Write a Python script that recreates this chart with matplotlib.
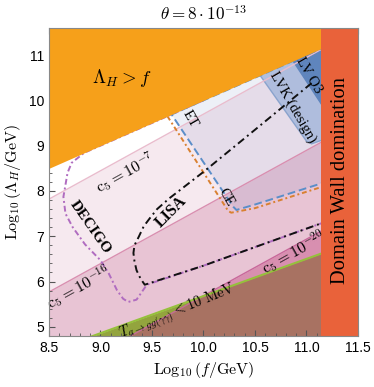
import numpy as np
import matplotlib.pyplot as plt
from matplotlib.ticker import MultipleLocator

plt.rcParams['mathtext.fontset'] = 'cm'
plt.rcParams['font.family'] = 'Liberation Serif'

# straight boundaries, values at log10 f = 8.5 and 11.5
x_ends = [8.5, 11.5]
diag_y = [8.5, 11.5]          # Lambda_H = f
c5_7_y = [7.82, 11.57]
c5_16_y = [5.77, 9.52]
c5_20_y = [3.81, 7.56]
temp_y = [4.45, 6.91]         # T_{a->gg} = 10 MeV
dw_start = 11.14              # domain wall domination

# detector reach contours (log10 f, log10 Lambda_H)
decigo_x = [10.0, 8.84, 8.72, 8.68, 8.64, 8.66, 8.73, 8.85, 9.0, 9.08, 9.16, 9.22, 9.27, 9.35, 9.45, 10.0, 10.5, 11.15]
decigo_y = [10.0, 8.84, 8.62, 8.4, 7.87, 7.5, 7.2, 6.82, 6.47, 6.18, 5.81, 5.62, 5.55, 5.6, 5.93, 6.35, 6.76, 7.29]
lisa_x = [11.05, 10.5, 10.0, 9.67, 9.55, 9.48, 9.42, 9.37, 9.33, 9.32, 9.33, 9.35, 9.39, 9.43, 10.0, 10.5, 11.15]
lisa_y = [10.38, 9.35, 8.42, 7.84, 7.6, 7.4, 7.22, 6.98, 6.8, 6.63, 6.45, 6.25, 6.06, 5.93, 6.35, 6.76, 7.29]
et_x = [11.4, 9.69, 10.18, 10.29, 10.32, 10.5, 11.15]
et_y = [11.4, 9.69, 8.02, 7.65, 7.58, 7.7, 8.17]
ce_x = [9.65, 10.2, 10.24, 10.27, 10.5, 11.15]
ce_y = [9.65, 7.7, 7.56, 7.52, 7.62, 8.09]
lvk_x = [10.55, 11.0, 11.05, 11.15, 11.15, 10.55]
lvk_y = [10.55, 9.1, 9.04, 9.12, 11.6, 11.6]
o3_x = [10.87, 11.15, 11.15, 10.87]
o3_y = [10.87, 9.9, 11.6, 11.6]

fig = plt.figure(figsize=(3.74, 3.87), dpi=100)
ax = fig.add_axes([0.131, 0.132, 0.826, 0.796])
ymin = 4.8

# coupling bands
ax.fill_between(x_ends, c5_7_y, ymin, color='#f6e9ef', lw=0, zorder=1)
ax.fill_between(x_ends, c5_16_y, ymin, color='#e8c4d4', lw=0, zorder=1)
ax.fill_between(x_ends, c5_20_y, ymin, color='#d88fb0', lw=0, zorder=1)
ax.fill_between(x_ends, temp_y, ymin, color='#93a43e', lw=0, zorder=1)
# overlap of the two lowest bands
xg = np.linspace(x_ends[0], x_ends[1], 601)
low = np.minimum(np.interp(xg, x_ends, c5_20_y), np.interp(xg, x_ends, temp_y))
ax.fill_between(xg, low, ymin, where=low > ymin, interpolate=True, color='#a87262', lw=0, zorder=1)

# ET reach tint
ax.fill(et_x[1:] + [11.15, 9.69], et_y[1:] + [11.6, 11.6], color='#5070b8', alpha=0.1, lw=0, zorder=1.2)
ax.fill(lvk_x, lvk_y, facecolor='#a6b8dc', edgecolor='#7f9cc9', alpha=0.85, lw=1, zorder=1.3)
ax.fill(o3_x, o3_y, facecolor='#5f85bd', edgecolor='#5f85bd', lw=1, zorder=1.4)

ax.plot(x_ends, c5_7_y, color='#e9bccd', lw=1, zorder=1.5)
ax.plot(x_ends, c5_16_y, color='#d98fb0', lw=1, zorder=1.5)
ax.plot(x_ends, c5_20_y, color='#c8679a', lw=1, zorder=1.5)
ax.plot(x_ends, temp_y, color='#96c03c', lw=1.5, zorder=1.6)

ax.plot(decigo_x, decigo_y, color='#b06cc0', lw=1.4, dashes=(3, 1.5, 1, 1.5), zorder=2)
ax.plot(lisa_x, lisa_y, color='#111111', lw=1.4, dashes=(4, 2, 1, 2), zorder=2.1)
ax.plot(ce_x, ce_y, color='#d98030', lw=1.4, dashes=(2.5, 1.5, 1, 1.5), zorder=2)
ax.plot(et_x, et_y, color='#5b8ec9', lw=1.4, dashes=(4, 2), zorder=2)

# excluded regions
ax.fill_between(x_ends, diag_y, 12, color='#f6a01a', lw=0, zorder=3)
ax.axvspan(dw_start, 11.5, color='#e9623a', lw=0, zorder=3)

ax.text(9.21, 10.49, r'$\Lambda_H > f$', fontsize=13.5, ha='center', va='center', zorder=4)
ax.text(11.33, 8.22, 'Domain Wall domination', fontsize=14.8, rotation=90, ha='center', va='center', zorder=4)
ax.text(9.24, 8.39, r'$\mathrm{c}_5 = 10^{-7}$', fontsize=11.5, rotation=29, ha='center', va='center', zorder=4)
ax.text(8.79, 5.87, r'$\mathrm{c}_5 = 10^{-16}$', fontsize=11.5, rotation=29, ha='center', va='center', zorder=4)
ax.text(10.88, 6.63, r'$\mathrm{c}_5 = 10^{-20}$', fontsize=11.5, rotation=29, ha='center', va='center', zorder=4)
ax.text(9.75, 5.33, r'$T_{a\to gg(\gamma\gamma)} < 10\ \mathrm{MeV}$', fontsize=10.5, rotation=22, ha='center', va='center', zorder=4)
ax.text(8.9, 7.2, 'DECIGO', fontsize=11, fontweight='bold', rotation=-55, ha='center', va='center', zorder=4)
ax.text(9.69, 7.53, 'LISA', fontsize=11.5, fontweight='bold', rotation=45, ha='center', va='center', zorder=4)
ax.text(9.87, 9.59, 'ET', fontsize=10.5, rotation=-60, ha='center', va='center', zorder=4)
ax.text(10.22, 7.87, 'CE', fontsize=10.5, rotation=-60, ha='center', va='center', zorder=4)
ax.text(10.87, 9.85, 'LVK (design)', fontsize=10.5, rotation=-60, ha='center', va='center', zorder=4)
ax.text(11.02, 10.56, 'LV O3', fontsize=10.5, rotation=-60, ha='center', va='center', zorder=4)

ax.set_xlim(8.5, 11.5)
ax.set_ylim(ymin, 11.6)
ax.xaxis.set_major_locator(MultipleLocator(0.5))
ax.xaxis.set_minor_locator(MultipleLocator(0.1))
ax.yaxis.set_major_locator(MultipleLocator(1))
ax.yaxis.set_minor_locator(MultipleLocator(0.2))
ax.tick_params(which='both', direction='in', top=True, right=True, color='#555555', zorder=5)
ax.tick_params(which='major', length=4, labelsize=10)
ax.tick_params(which='minor', length=2)
for lab in ax.get_xticklabels() + ax.get_yticklabels():
    lab.set_fontfamily('Liberation Sans')
for sp in ax.spines.values():
    sp.set_color('#888888')
    sp.set_zorder(5)

ax.set_xlabel(r'$\mathrm{Log}_{10}\,(f/\mathrm{GeV})$', fontsize=11.5)
ax.set_ylabel(r'$\mathrm{Log}_{10}\,(\Lambda_H/\mathrm{GeV})$', fontsize=11.5)
ax.set_title(r'$\theta = 8\cdot 10^{-13}$', fontsize=12.3, pad=6)

plt.savefig('out.png', dpi=100)
